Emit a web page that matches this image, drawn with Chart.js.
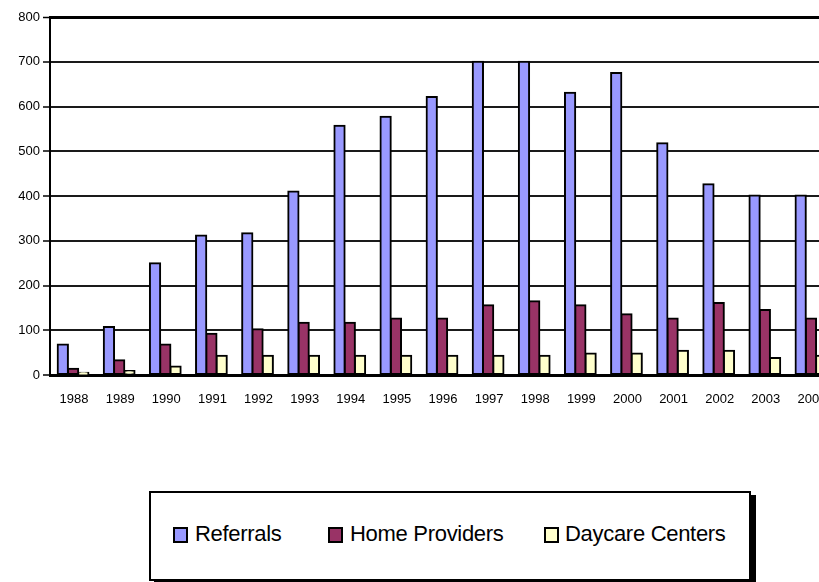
<!DOCTYPE html>
<html>
<head>
<meta charset="utf-8">
<script src="https://cdn.jsdelivr.net/npm/chart.js@4.4.0/dist/chart.umd.min.js"></script>
<style>
  html, body { margin: 0; padding: 0; background: #fff; overflow: hidden; }
  #wrap { position: relative; width: 819px; height: 582px; overflow: hidden; }
  #chart { position: absolute; left: 0; top: 0; }
  #legend {
    position: absolute; left: 149px; top: 491px; width: 602px; height: 90px;
    box-sizing: border-box; border: 2px solid #000; background: #fff;
    box-shadow: 5px 4px 0 #000;
  }
  .swatch { position: absolute; width: 15px; height: 16px; box-sizing: border-box; border: 2px solid #000; }
  .label {
    position: absolute; font-family: 'Liberation Sans', Arial, sans-serif;
    font-size: 22px; line-height: 22px; letter-spacing: -0.3px; color: #000; white-space: nowrap;
  }
</style>
</head>
<body>
<div id="wrap">
  <canvas id="chart" width="850" height="440"></canvas>
  <div id="legend"></div>
</div>
<script>
const years = ['1988', '1989', '1990', '1991', '1992', '1993', '1994', '1995', '1996',
               '1997', '1998', '1999', '2000', '2001', '2002', '2003', '2004'];
const referrals      = [68, 107, 250, 312, 317, 410, 557, 577, 621, 700, 700, 631, 675, 518, 426, 401, 401];
const homeProviders  = [14, 33, 68, 92, 102, 117, 117, 126, 126, 156, 165, 156, 136, 126, 161, 145, 126];
const daycareCenters = [5, 9, 19, 43, 43, 43, 43, 43, 43, 43, 43, 48, 48, 54, 54, 38, 43];

const seriesNames  = ['Referrals', 'Home Providers', 'Daycare Centers'];
const seriesColors = ['#9999FF', '#993366', '#FFFFCC'];
const seriesData   = [referrals, homeProviders, daycareCenters];

const font = "'Liberation Sans', Arial, sans-serif";

new Chart(document.getElementById('chart'), {
    type: 'bar',
    data: {
        labels: years,
        datasets: seriesNames.map((name, i) => ({
            label: name,
            data: seriesData[i],
            backgroundColor: seriesColors[i]
        }))
    },
    options: {
        responsive: false,
        animation: false,
        devicePixelRatio: 1,
        layout: { padding: { top: 17, right: 16, left: 0, bottom: 0 } },
        plugins: {
            legend: { display: false },
            tooltip: { enabled: false }
        },
        datasets: {
            bar: {
                categoryPercentage: 0.667,
                barPercentage: 1,
                borderWidth: 2,
                borderColor: '#000',
                borderSkipped: false,
                inflateAmount: 1
            }
        },
        scales: {
            x: {
                z: 1,
                grid: { display: false, drawTicks: false },
                border: { display: true, color: '#000', width: 3 },
                ticks: {
                    color: '#000',
                    font: { family: font, size: 13 },
                    padding: 17,
                    labelOffset: 1,
                    maxRotation: 0,
                    autoSkip: false
                },
                afterFit: scale => { scale.height = 65; }
            },
            y: {
                min: 0,
                max: 800,
                ticks: {
                    stepSize: 100,
                    color: '#000',
                    font: { family: font, size: 13 },
                    padding: 3
                },
                grid: {
                    color: ctx => (ctx.tick && ctx.tick.value === 800) ? '#000' : '#1a1a1a',
                    lineWidth: ctx => (ctx.tick && ctx.tick.value === 800) ? 3 : 2,
                    tickLength: 7,
                    tickColor: '#000',
                    tickWidth: 1.5
                },
                border: { color: '#000', width: 2 },
                afterFit: scale => { scale.width = 50; }
            }
        }
    }
});

// Boxed legend below the chart
const legendPos = [
    { swatch: 173, text: 195 },
    { swatch: 328, text: 350 },
    { swatch: 544, text: 565 }
];
const legend = document.getElementById('legend');
seriesNames.forEach((name, i) => {
    const sw = document.createElement('div');
    sw.className = 'swatch';
    sw.style.left = (legendPos[i].swatch - 151) + 'px';
    sw.style.top = (527 - 493) + 'px';
    sw.style.background = seriesColors[i];
    legend.appendChild(sw);

    const tx = document.createElement('div');
    tx.className = 'label';
    tx.style.left = (legendPos[i].text - 151) + 'px';
    tx.style.top = (523.4 - 493) + 'px';
    tx.textContent = name;
    legend.appendChild(tx);
});
</script>
</body>
</html>
